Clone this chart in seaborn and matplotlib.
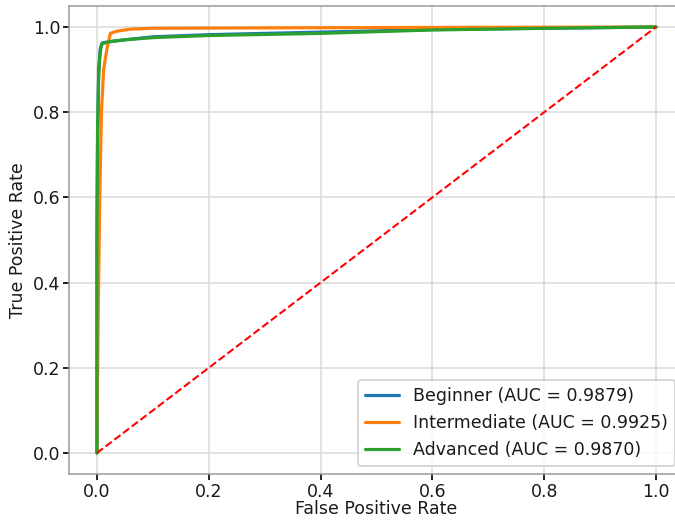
import numpy as np
import pandas as pd
import seaborn as sns
import matplotlib
matplotlib.use("Agg")
import matplotlib.pyplot as plt


# ROC points
beginner_fpr = [0.0, 0.0, 0.001, 0.003, 0.006, 0.010, 0.03, 0.10, 0.20, 0.40, 0.60, 0.80, 1.0]
beginner_tpr = [0.0, 0.50, 0.72, 0.90, 0.950, 0.963, 0.967, 0.977, 0.982, 0.988, 0.994, 0.997, 1.0]

intermediate_fpr = [0.0, 0.002, 0.005, 0.008, 0.012, 0.018, 0.024, 0.035, 0.06, 0.10, 0.30, 0.60, 1.0]
intermediate_tpr = [0.0, 0.30, 0.60, 0.80, 0.90, 0.95, 0.985, 0.990, 0.995, 0.997, 0.998, 0.999, 1.0]

advanced_fpr = [0.0, 0.0, 0.001, 0.003, 0.005, 0.008, 0.02, 0.05, 0.10, 0.20, 0.40, 0.60, 0.80, 1.0]
advanced_tpr = [0.0, 0.50, 0.75, 0.88, 0.93, 0.960, 0.965, 0.970, 0.975, 0.980, 0.985, 0.993, 0.997, 1.0]

labels = ["Beginner (AUC = 0.9879)", "Intermediate (AUC = 0.9925)", "Advanced (AUC = 0.9870)"]
colors = ["#1f77b4", "#ff7f0e", "#2ca02c"]

curves = [(beginner_fpr, beginner_tpr), (intermediate_fpr, intermediate_tpr), (advanced_fpr, advanced_tpr)]

sns.set_style("ticks", {"axes.grid": True, "grid.color": ".85", "axes.edgecolor": ".6",
                        "text.color": ".1", "axes.labelcolor": ".1",
                        "xtick.color": ".1", "ytick.color": ".1"})
plt.rcParams['font.family'] = ['DejaVu Sans']
plt.rcParams['font.size'] = 9.3

fig = plt.figure(figsize=(5.0, 520 / 135), dpi=135)
ax = fig.add_axes([69 / 675, (520 - 474.3) / 520, 615 / 675, 468.6 / 520])

for (fpr, tpr), lab, col in zip(curves, labels, colors):
    df = pd.DataFrame({"fpr": fpr, "tpr": tpr})
    sns.lineplot(data=df, x="fpr", y="tpr", sort=False, estimator=None,
                 color=col, lw=1.7, label=lab, ax=ax)

ax.plot([0, 1], [0, 1], "r--", lw=1.1)

ax.set_xlim(-0.05, 1.05)
ax.set_ylim(-0.05, 1.05)
ax.set_xticks(np.arange(0, 1.01, 0.2))
ax.set_yticks(np.arange(0, 1.01, 0.2))
ax.tick_params(labelsize=9.3, length=3, pad=1.5, width=1)
ax.set_xlabel("False Positive Rate", fontsize=9.3, labelpad=-0.5)
ax.set_ylabel("True Positive Rate", fontsize=9.3, labelpad=3)
ax.legend(loc="lower right", fontsize=9.3)

fig.savefig("out.png", dpi=135)
plt.close()
